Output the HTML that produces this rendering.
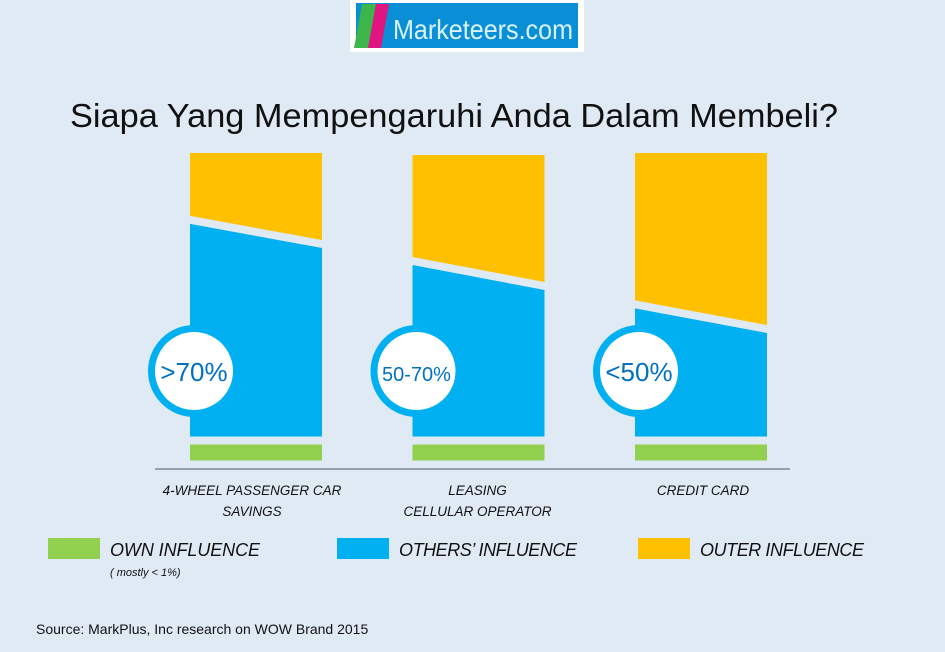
<!DOCTYPE html>
<html><head><meta charset="utf-8"><style>
body{margin:0;background:#dfeaf5;width:945px;height:647px;overflow:hidden;font-family:"Liberation Sans",sans-serif}
</style></head><body>
<svg width="945" height="647" xmlns="http://www.w3.org/2000/svg" id="svg">
<rect width="945" height="647" fill="#dfeaf5"/>
<g>
<rect x="350" y="0" width="234" height="52" fill="#fff"/>
<rect x="356" y="3" width="222" height="45" fill="#0a8fd6"/>
<polygon points="362,4 376,4 368,48 354,48" fill="#3cb54a"/>
<polygon points="376,4 389,4 381,48 368,48" fill="#e0157f"/>
<text x="393" y="39" font-size="28" fill="#d8f3ff" textLength="180" lengthAdjust="spacingAndGlyphs">Marketeers.com</text>
</g>
<text x="70" y="127" font-size="33" fill="#111" textLength="768" lengthAdjust="spacingAndGlyphs">Siapa Yang Mempengaruhi Anda Dalam Membeli?</text>
<line x1="155" y1="469" x2="790" y2="469" stroke="#7f8a96" stroke-width="1.5"/>
<g id="bars"></g>
<g font-style="italic" font-size="18" fill="#111">
<rect x="48" y="538" width="52" height="21" fill="#92d050"/>
<text x="110" y="556" textLength="150">OWN INFLUENCE</text>
<text x="110" y="576" font-size="11">( mostly &lt; 1%)</text>
<rect x="337" y="538" width="52" height="21" fill="#00b0f0"/>
<text x="399" y="556" textLength="178">OTHERS’ INFLUENCE</text>
<rect x="638" y="538" width="52" height="21" fill="#ffc000"/>
<text x="700" y="556" textLength="164">OUTER INFLUENCE</text>
</g>
<text x="36" y="634" font-size="14" fill="#111">Source: MarkPlus, Inc research on WOW Brand 2015</text>
</svg>
<script>
const categories=[["4-WHEEL PASSENGER CAR","SAVINGS"],["LEASING","CELLULAR OPERATOR"],["CREDIT CARD"]];
const badges=[">70%","50-70%","<50%"];
const totals=[100,99.3,100];
const splitLeft=[76.4,61.9,46.6];
const splitRight=[67.9,53.1,37.9];
const NS="http://www.w3.org/2000/svg";
const g=document.getElementById('bars');
const y0=436.5,pxPer=2.835;
const y=v=>y0-v*pxPer;
const x0=190,step=222.5,bw=132;
function mk(t,a){const e=document.createElementNS(NS,t);for(const k in a)e.setAttribute(k,a[k]);g.appendChild(e);return e;}
categories.forEach((c,i)=>{
 const L=x0+i*step,R=L+bw,gap=4;
 const o=mk('polygon',{points:`${L},${y(totals[i])} ${R},${y(totals[i])} ${R},${y(splitRight[i])-gap} ${L},${y(splitLeft[i])-gap}`,fill:'#ffc000'});
 
 
 const b=mk('polygon',{points:`${L},${y(splitLeft[i])+gap} ${R},${y(splitRight[i])+gap} ${R},${y(0)} ${L},${y(0)}`,fill:'#00b0f0'});
 
 
 const gr=mk('rect',{x:L,y:444.5,width:bw,height:16,fill:'#92d050'});
 
 
 const c1=mk('circle',{cx:L+4,cy:371,r:46,fill:'#00b0f0'});
 
 
 const c2=mk('circle',{cx:L+4,cy:371,r:39,fill:'#fff'});
 
 
 const t=mk('text',{x:L+4,y:381,'text-anchor':'middle','font-size':badges[i].length>4?20:26,fill:'#0070c0'});
 t.textContent=badges[i];
 
 
 c.forEach((ln,j)=>{
  const tl=mk('text',{x:L+bw/2-4+i*3,y:495+j*21,'text-anchor':'middle','font-size':13.5,'font-style':'italic',fill:'#111'});
  tl.textContent=ln;
  
  
 });
});
</script>
</body></html>
